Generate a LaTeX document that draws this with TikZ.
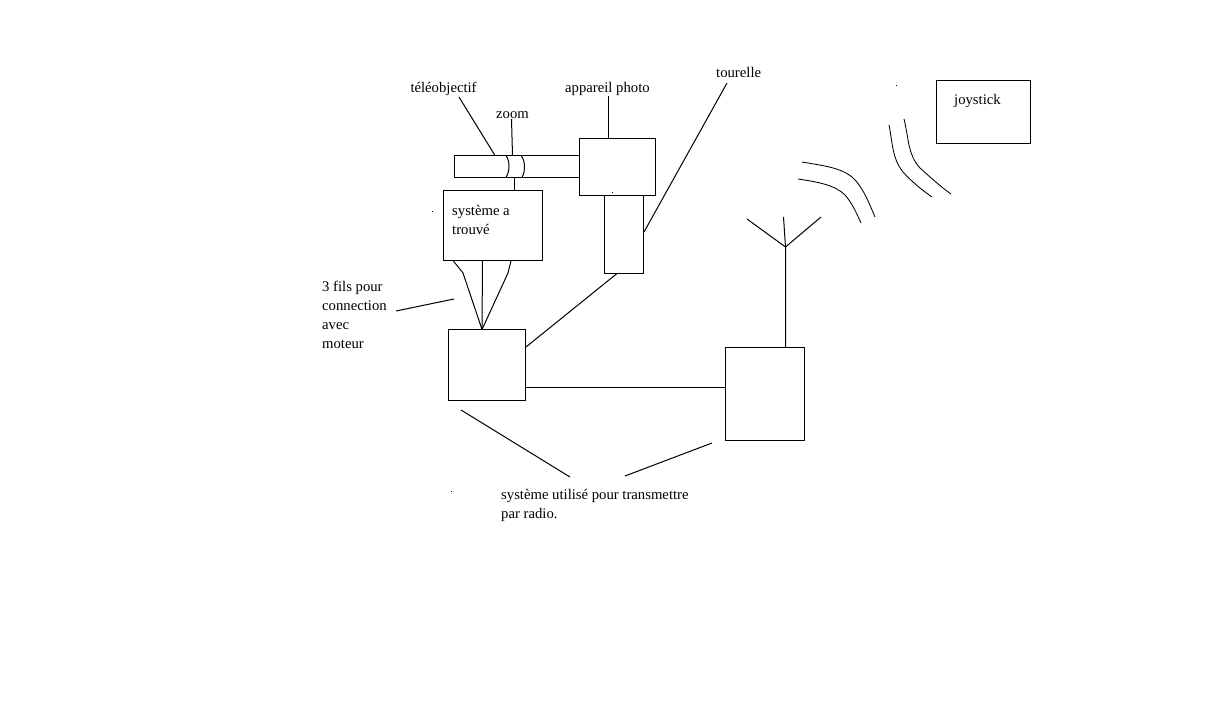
\documentclass[tikz,border=0pt]{standalone}
\usepackage{fontspec}
\setmainfont{Liberation Serif}
\tikzset{
  x=1pt,y=-1pt,
  every path/.style={line width=1pt},
  box/.style={draw=black,fill=white,inner sep=0pt,minimum width=#1},
  lbl/.style={inner sep=0pt,anchor=base west,font=\fontsize{14.7}{19}\selectfont},
  mlbl/.style={inner sep=0pt,anchor=north west,align=left,font=\fontsize{14.7}{19}\selectfont},
  conn/.style={draw=black,line width=1pt},
  thinconn/.style={draw=black,line width=.85pt,line join=round},
  speck/.style={fill=black,inner sep=0pt,minimum size=1pt}
}
\newcommand{\pbox}[5]{\node[box=#4-#2,minimum height=#5-#3] (#1) at ({(#2+#4)/2},{(#3+#5)/2}) {};}
\begin{document}
\begin{tikzpicture}
\useasboundingbox[fill=white] (0,0) rectangle (1218,727);
% boxes
\pbox{tele}{454.5}{155.5}{579}{177.5}
\pbox{camera}{579.5}{138.5}{655.5}{195.5}
\pbox{sys}{443.5}{190.5}{542.5}{260.5}
\pbox{tour}{604.5}{195.5}{643.5}{273.5}
\pbox{motor}{448.5}{329.5}{525.5}{400.5}
\pbox{radio}{725.5}{347.5}{804.5}{440.5}
\pbox{joy}{936.5}{80.5}{1030.5}{143.5}
% labels
\node[lbl] (lTele) at (410,93) {téléobjectif};
\node[lbl] (lApp) at (564.7,93) {appareil photo};
\node[lbl] (lZoom) at (495.7,119) {zoom};
\node[lbl] (lTour) at (715.7,78) {tourelle};
\node[lbl] (lJoy) at (953.7,105) {joystick};
\node[mlbl] (lSys) at (451.7,205) {système a\\trouvé};
\node[mlbl] (lFils) at (321.7,281) {3 fils pour\\connection\\avec\\moteur};
\node[mlbl] (lRadio) at (500.7,489) {système utilisé pour transmettre\\par radio.};
% free ends
\coordinate (a1) at (459,97); \coordinate (a2) at (495,155.5);
\coordinate (b1) at (608.5,96); \coordinate (b2) at (608.5,138.5);
\coordinate (c1) at (511.5,119); \coordinate (c2) at (512.5,155.5);
\coordinate (d1) at (514.5,177.5); \coordinate (d2) at (514.5,190.5);
\coordinate (e1) at (727,83); \coordinate (e2) at (644,232);
\coordinate (f1) at (526,347); \coordinate (f2) at (617,273.5);
\coordinate (g1) at (525.5,387.5); \coordinate (g2) at (725.5,387.5);
\coordinate (h0) at (785.5,347.5); \coordinate (h1) at (785.5,247); \coordinate (h2) at (783.5,217);
\coordinate (h3) at (747,219); \coordinate (h4) at (821,217);
\coordinate (p) at (482,329.5);
\coordinate (i1) at (396,311); \coordinate (i2) at (454,299);
\coordinate (j1) at (461,410); \coordinate (j2) at (570,477);
\coordinate (k1) at (625,476); \coordinate (k2) at (712,443);
% connectors
\draw[conn] (a1) -- (a2);
\draw[conn] (b1) -- (b2);
\draw[conn] (c1) -- (c2);
\draw[conn] (d1) -- (d2);
\draw[conn] (e1) -- (e2);
\draw[conn] (f1) -- (f2);
\draw[conn] (g1) -- (g2);
\draw[conn] (h0) -- (h1) -- (h2);
\draw[conn] (h3) -- (h1) -- (h4);
\draw[conn] (i1) -- (i2);
\draw[conn] (j1) -- (j2);
\draw[conn] (k1) -- (k2);
% three wires
\draw[conn] (453,260.5) -- (463,273) -- (p);
\draw[conn] (482.5,260.5) -- (p);
\draw[conn] (511,260.5) -- (508,273) -- (p);
% zoom rings
\draw[conn] (506,155.5) .. controls (510,161) and (510,171) .. (506,177.5);
\draw[conn] (521,155.5) .. controls (525.5,161) and (525.5,171) .. (522,177.5);
% waves
\draw[thinconn] (802,162) .. controls (825,166) and (845,168) .. (856,181) .. controls (865,192) and (869,203) .. (875,217);
\draw[thinconn] (798,179) .. controls (818,182) and (835,185) .. (845,195) .. controls (852,203) and (856,212) .. (861,223);
\draw[thinconn] (889,125) .. controls (893,145) and (892,158) .. (903,172) .. controls (912,182) and (922,190) .. (932,197);
\draw[thinconn] (904,119) .. controls (909,140) and (908,155) .. (920,168) .. controls (930,177) and (941,187) .. (951,194);
% specks
\node[speck] (s1) at (896,86) {};
\node[speck] (s2) at (432,212) {};
\node[speck] (s3) at (451.5,491.5) {};
\node[speck] (s4) at (612.5,192.5) {};
\end{tikzpicture}
\end{document}
